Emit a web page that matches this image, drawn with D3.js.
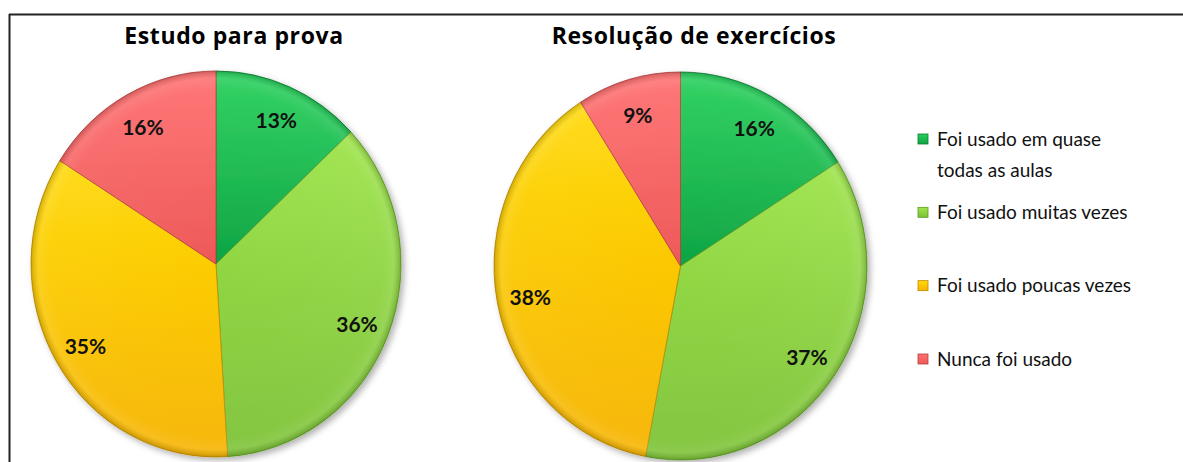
<!DOCTYPE html>
<html>
<head>
<meta charset="utf-8">
<script src="https://cdn.jsdelivr.net/npm/d3@7"></script>
<style>
  html, body { margin: 0; padding: 0; background: #fff; }
  svg { display: block; font-family: Lato, "Open Sans", sans-serif; }
</style>
</head>
<body>
<div id="canvas"></div>
<script>
// categorias e valores (%)
const categories = [
  "Foi usado em quase todas as aulas",
  "Foi usado muitas vezes",
  "Foi usado poucas vezes",
  "Nunca foi usado"
];
const legendLines = [
  ["Foi usado em quase", "todas as aulas"],
  ["Foi usado muitas vezes"],
  ["Foi usado poucas vezes"],
  ["Nunca foi usado"]
];
const titles = ["Estudo para prova", "Resolução de exercícios"];
const estudoValues = [13, 36, 35, 16];
const exerciciosValues = [16, 37, 38, 9];

// cores: topo / base / borda
const colorTop = ["#28d05c", "#9ee44c", "#ffda08", "#ff7070"];
const colorBottom = ["#0ea443", "#7cc236", "#f6b300", "#ee5858"];
const colorEdge = ["#0b7a30", "#5e9a24", "#c08a00", "#b63f3f"];

const width = 1183;
const height = 462;

const svg = d3.select("#canvas").append("svg")
  .attr("width", width)
  .attr("height", height);

const defs = svg.append("defs");

const shadow = defs.append("filter")
  .attr("id", "shadow")
  .attr("x", "-10%").attr("y", "-10%")
  .attr("width", "125%").attr("height", "125%");
shadow.append("feDropShadow")
  .attr("dx", 3).attr("dy", 3)
  .attr("stdDeviation", 3)
  .attr("flood-color", "#000")
  .attr("flood-opacity", 0.3);

// gradiente vertical de cada fatia
categories.forEach((c, i) => {
  const lg = defs.append("linearGradient")
    .attr("id", "grad" + i)
    .attr("x1", 0).attr("y1", 0).attr("x2", 0).attr("y2", 1);
  lg.append("stop").attr("offset", "0%").attr("stop-color", colorTop[i]);
  lg.append("stop").attr("offset", "100%").attr("stop-color", colorBottom[i]);
});

// bisel na borda do pie
const bevel = defs.append("radialGradient").attr("id", "bevel");
bevel.append("stop").attr("offset", "0%").attr("stop-color", "#fff").attr("stop-opacity", 0.0);
bevel.append("stop").attr("offset", "90%").attr("stop-color", "#fff").attr("stop-opacity", 0.05);
bevel.append("stop").attr("offset", "96%").attr("stop-color", "#fff").attr("stop-opacity", 0.12);
bevel.append("stop").attr("offset", "100%").attr("stop-color", "#000").attr("stop-opacity", 0.18);

// moldura (só topo e esquerda visíveis)
svg.append("line")
  .attr("x1", 9).attr("y1", 14.5).attr("x2", width).attr("y2", 14.5)
  .attr("stroke", "#222").attr("stroke-width", 2);
svg.append("line")
  .attr("x1", 9.5).attr("y1", 14).attr("x2", 9.5).attr("y2", height)
  .attr("stroke", "#222").attr("stroke-width", 2);

const pie = d3.pie().sort(null).value(d => d);

const drawPie = (values, title, cx, cy, rx, ry, titleX) => {
  const g = svg.append("g");

  g.append("text")
    .attr("x", titleX)
    .attr("y", 44)
    .attr("text-anchor", "middle")
    .style("font-family", "'Open Sans', sans-serif")
    .style("font-size", "23px")
    .style("letter-spacing", "0.6px")
    .style("font-weight", "bold")
    .style("fill", "#000")
    .text(title);

  const arcs = pie(values);
  const arc = d3.arc().innerRadius(0).outerRadius(rx);
  const labelArc = d3.arc().innerRadius(rx * 0.82).outerRadius(rx * 0.82);

  const pieG = g.append("g")
    .attr("transform", `translate(${cx},${cy}) scale(1,${ry / rx})`);

  const slices = pieG.append("g").attr("filter", "url(#shadow)");
  slices.selectAll("path")
    .data(arcs)
    .enter()
    .append("path")
    .attr("d", arc)
    .attr("fill", (d, i) => `url(#grad${i})`)
    .attr("stroke", (d, i) => colorEdge[i])
    .attr("stroke-width", 0.8)
    .attr("stroke-linejoin", "round");

  pieG.append("circle")
    .attr("r", rx)
    .attr("fill", "url(#bevel)")
    .style("pointer-events", "none");

  g.selectAll(".lbl")
    .data(arcs)
    .enter()
    .append("text")
    .attr("class", "lbl")
    .attr("x", d => cx + labelArc.centroid(d)[0])
    .attr("y", d => cy + labelArc.centroid(d)[1] * ry / rx)
    .attr("dy", "0.45em")
    .attr("text-anchor", "middle")
    .style("font-size", "21px")
    .style("font-weight", "bold")
    .style("fill", "#111")
    .text(d => d.data + "%");
};

drawPie(estudoValues, titles[0], 216, 264, 185, 193, 234);
drawPie(exerciciosValues, titles[1], 680.5, 266, 186.5, 194, 694);

// legenda
const ly = d3.scalePoint().domain(categories).range([139, 359]);

const legend = svg.selectAll(".legend")
  .data(categories)
  .enter()
  .append("g")
  .attr("class", "legend")
  .attr("transform", d => `translate(918,${ly(d)})`);

legend.append("rect")
  .attr("x", 0)
  .attr("y", -5)
  .attr("width", 10)
  .attr("height", 10)
  .attr("fill", (d, i) => `url(#grad${i})`)
  .attr("stroke", (d, i) => colorEdge[i])
  .attr("stroke-width", 0.8);

legend.append("text")
  .attr("x", 19)
  .attr("y", 0)
  .style("font-size", "19px")
  .style("fill", "#111")
  .selectAll("tspan")
  .data((d, i) => legendLines[i])
  .enter()
  .append("tspan")
  .attr("x", 19)
  .attr("dy", (d, i) => i === 0 ? "0.35em" : "31px")
  .text(d => d);
</script>
</body>
</html>
